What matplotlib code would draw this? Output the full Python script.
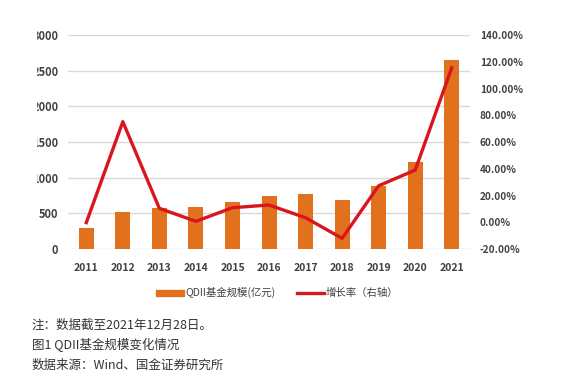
import numpy as np
import matplotlib.pyplot as plt
from matplotlib.patches import Rectangle, Patch
from matplotlib.lines import Line2D
from matplotlib.ticker import FuncFormatter

plt.rcParams['font.family'] = ['Noto Sans CJK SC', 'DejaVu Sans']

# data
years = ['2011', '2012', '2013', '2014', '2015', '2016', '2017', '2018', '2019', '2020', '2021']
scale = [290, 514, 579, 583, 654, 743, 771, 687, 879, 1220, 2645]          # 亿元
growth = [-0.3, 75.2, 10.4, 0.7, 10.9, 12.9, 3.4, -12.0, 27.3, 39.0, 115.5]  # %

bar_color = '#E2711D'
line_color = '#D9161F'
txt = '#404040'

fig = plt.figure(figsize=(5.72, 3.90), dpi=100)
ax = fig.add_axes([0.1189, 0.3615, 0.7028, 0.5487])
x = np.arange(len(years))
ax.bar(x, scale, width=0.41, color=bar_color, zorder=2)
ax.set_xlim(-0.5, len(years) - 0.5)
ax.set_ylim(0, 3000)
ax.set_yticks(range(0, 3001, 500))
ax.grid(axis='y', color='#D9D9D9', lw=1.0, zorder=0)
ax.set_xticks(x)
ax.set_xticklabels(years)
for s in ax.spines.values():
    s.set_visible(False)
ax.tick_params(axis='y', length=0, labelsize=8, labelcolor=txt, pad=7)
ax.tick_params(axis='x', length=0, labelsize=7.5, labelcolor=txt, pad=10)
for lab in ax.get_xticklabels() + ax.get_yticklabels():
    lab.set_fontweight('bold')

ax2 = ax.twinx()
ax2.plot(x, np.array(growth) / 100, color=line_color, lw=2.4, zorder=3)
ax2.set_ylim(-0.2, 1.4)
ax2.set_yticks(np.arange(-0.2, 1.41, 0.2))
ax2.yaxis.set_major_formatter(FuncFormatter(lambda v, p: f'{v*100:.2f}%'))
for s in ax2.spines.values():
    s.set_visible(False)
ax2.tick_params(length=0, labelsize=7.2, labelcolor=txt, pad=7)
for lab in ax2.get_yticklabels():
    lab.set_fontweight('bold')

# legend
handles = [Patch(color=bar_color), Line2D([], [], color=line_color, lw=2.4)]
fig.legend(handles, ['QDII基金规模(亿元)', '增长率（右轴）'], ncol=2,
           loc='center', bbox_to_anchor=(0.485, 0.249), frameon=False,
           fontsize=7.5, labelcolor=txt, handlelength=2.6, handleheight=0.5,
           columnspacing=2.0, handletextpad=0.2)

# the reference is cropped on the left side
fig.add_artist(Rectangle((0, 0.3), 36 / 572, 0.7, transform=fig.transFigure,
                         color='white', zorder=10))

# notes below the chart
notes = ['注：数据截至2021年12月28日。', '图1 QDII基金规模变化情况', '数据来源：Wind、国金证券研究所']
for i, t in enumerate(notes):
    fig.text(32 / 572, 1 - (325 + i * 20) / 390, t, fontsize=9, color='#333333', va='center')

fig.savefig('out.png', dpi=100)
